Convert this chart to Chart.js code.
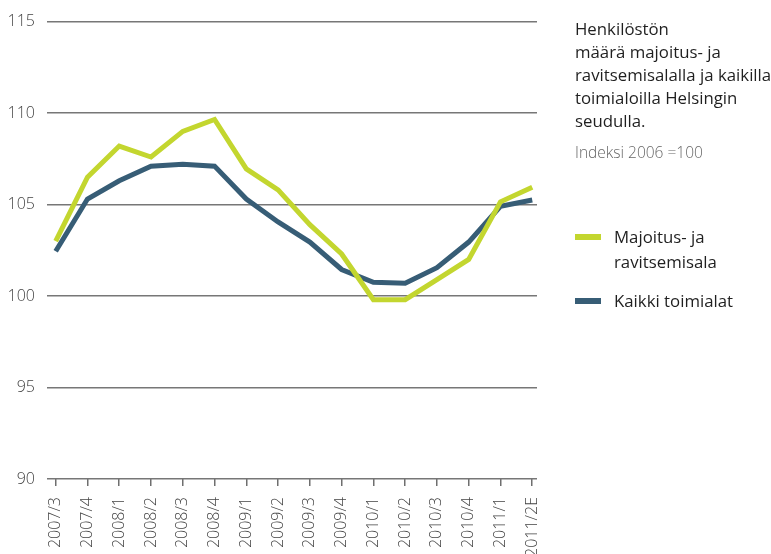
<!DOCTYPE html>
<html>
<head>
<meta charset="utf-8">
<script src="https://cdn.jsdelivr.net/npm/chart.js@4/dist/chart.umd.min.js"></script>
<style>
  html, body { margin: 0; padding: 0; background: #fff; }
  #wrap { position: relative; width: 771px; height: 554px; }
  canvas { position: absolute; left: 0; top: 0; }
  .side { position: absolute; font-family: "Open Sans", sans-serif; color: #1f1f1f; white-space: nowrap; }
  #title { left: 575px; top: 17px; font-size: 16.8px; line-height: 23px; }
  #sub { left: 575px; top: 141px; font-size: 15.5px; color: #666; font-weight: 300; }
  .leg { position: absolute; left: 575px; font-family: "Open Sans", sans-serif; font-size: 16.8px; line-height: 25px; color: #1f1f1f; }
  .sw { position: absolute; left: 0; width: 26px; height: 6px; }
  .lt { position: absolute; left: 39px; white-space: nowrap; }
</style>
</head>
<body>
<div id="wrap">
  <canvas id="c" width="771" height="554"></canvas>
  <div class="side" id="title">Henkilöstön<br>määrä majoitus- ja<br>ravitsemisalalla ja kaikilla<br>toimialoilla Helsingin<br>seudulla.</div>
  <div class="side" id="sub">Indeksi 2006 =100</div>
  <div class="leg" style="top:224px;"><div class="sw" style="top:10px;background:#c3d62f;"></div><div class="lt">Majoitus- ja<br>ravitsemisala</div></div>
  <div class="leg" style="top:288px;"><div class="sw" style="top:10px;background:#375d76;"></div><div class="lt">Kaikki toimialat</div></div>
</div>
<script>
const categories = ["2007/3","2007/4","2008/1","2008/2","2008/3","2008/4","2009/1","2009/2","2009/3","2009/4","2010/1","2010/2","2010/3","2010/4","2011/1","2011/2E"];
const majoitus = [103.0, 106.5, 108.2, 107.6, 109.0, 109.65, 106.95, 105.8, 103.9, 102.3, 99.8, 99.8, 100.9, 102.0, 105.15, 105.95];
const kaikki   = [102.45, 105.3, 106.3, 107.1, 107.2, 107.1, 105.3, 104.05, 102.95, 101.45, 100.75, 100.7, 101.55, 102.95, 104.9, 105.25];
const yTicks = [90, 95, 100, 105, 110, 115];

const toXY = arr => arr.map((v, i) => ({ x: i, y: v }));
const font = { family: "'Open Sans', sans-serif", size: 16, weight: 300 };

new Chart(document.getElementById('c'), {
  type: 'line',
  data: {
    datasets: [
      { label: 'Majoitus- ja ravitsemisala', data: toXY(majoitus), borderColor: '#c3d62f', borderWidth: 5, pointRadius: 0, tension: 0, borderJoinStyle: 'miter', borderCapStyle: 'butt' },
      { label: 'Kaikki toimialat', data: toXY(kaikki), borderColor: '#375d76', borderWidth: 5, pointRadius: 0, tension: 0, borderJoinStyle: 'miter', borderCapStyle: 'butt' }
    ]
  },
  options: {
    responsive: false,
    animation: false,
    events: [],
    layout: { padding: { top: 19, right: 234, left: 0, bottom: 0 } },
    plugins: { legend: { display: false }, tooltip: { enabled: false }, title: { display: false } },
    scales: {
      x: {
        type: 'linear',
        min: -0.274,
        max: 15.15,
        afterBuildTicks: s => { s.ticks = categories.map((_, i) => ({ value: i })); },
        afterFit: s => { s.height = 75; },
        border: { display: false },
        grid: { drawOnChartArea: false, drawTicks: true, tickLength: 7, color: '#6f6f6f', lineWidth: 1.5 },
        ticks: {
          autoSkip: false, minRotation: 90, maxRotation: 90, padding: 11,
          color: '#444', font: font,
          callback: v => categories[v]
        }
      },
      y: {
        min: 90, max: 115,
        afterBuildTicks: s => { s.ticks = yTicks.map(v => ({ value: v })); },
        afterFit: s => { s.width = 47; },
        border: { display: false },
        grid: { drawTicks: false, color: '#777', lineWidth: 1.5 },
        ticks: { padding: 12, color: '#444', font: font }
      }
    }
  }
});
</script>
</body>
</html>
